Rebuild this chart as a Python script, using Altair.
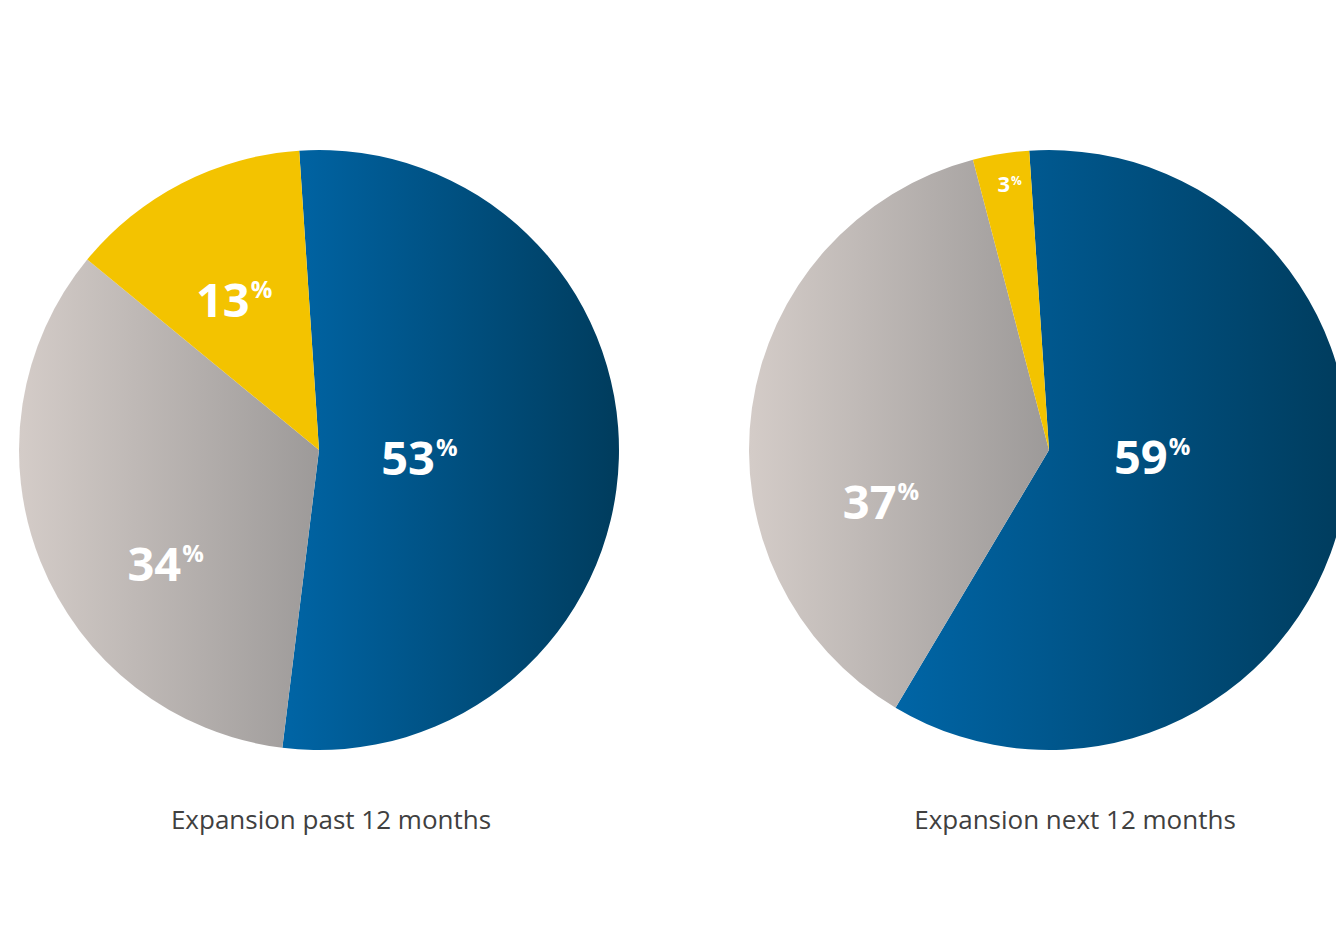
import math
import altair as alt
import pandas as pd

# ---- data ----
segments = ["Segment 1", "Segment 2", "Segment 3"]
past_values = [53, 34, 13]
next_values = [59, 37, 3]
titles = ["Expansion past 12 months", "Expansion next 12 months"]

# ---- style ----
START = -0.066  # radians, first slice starts just left of 12 o'clock
FILLS = [
    {"gradient": "linear", "x1": 0, "x2": 1, "y1": 0, "y2": 0,
     "stops": [{"offset": 0, "color": "#0065a6"}, {"offset": 1, "color": "#003c5d"}]},
    {"gradient": "linear", "x1": 0, "x2": 1, "y1": 0, "y2": 0,
     "stops": [{"offset": 0, "color": "#d4ccc8"}, {"offset": 1, "color": "#9d9a99"}]},
    "#f3c300",
]
FONT = "Open Sans"

# label placement per panel/segment: (radius, dx, dy, big)
LABELS = [
    [(110, 6, 22, True), (170, 20, 68, True), (165, 6, 14, True)],
    [(120, 2, -4, True), (155, 1, 91, True), (268, 4, 7, False)],
]


def panel(values, title, labels, width, title_dx):
    df = pd.DataFrame({"segment": segments, "value": values, "order": list(range(len(values)))})
    total = sum(values)
    theta_scale = alt.Scale(domain=[0, total], range=[START, START + 2 * math.pi])
    base = alt.Chart(df).transform_window(
        cum="sum(value)", sort=[alt.SortField("order")], frame=[None, 0]
    ).transform_calculate(
        v0="datum.cum - datum.value",
        mid="datum.cum - datum.value / 2",
        label="'' + datum.value",
    )
    layers = []
    for seg, fill in zip(segments, FILLS):
        layers.append(
            base.transform_filter(alt.datum.segment == seg)
            .mark_arc(outerRadius=300, fill=fill, strokeWidth=0)
            .encode(
                theta=alt.Theta("v0:Q", stack=None, scale=theta_scale),
                theta2="cum:Q",
            )
        )
    for seg, (r, dx, dy, big) in zip(segments, labels):
        fs = 47 if big else 22
        ps = 24 if big else 12
        up = 19 if big else 7
        sub = base.transform_filter(alt.datum.segment == seg)
        layers.append(
            sub.mark_text(font=FONT, fontWeight="bold", fontSize=fs, color="white",
                          align="right", baseline="alphabetic", dx=dx, dy=dy)
            .encode(theta=alt.Theta("mid:Q", stack=None, scale=theta_scale),
                    radius=alt.value(r), text="label:N")
        )
        layers.append(
            sub.mark_text(font=FONT, fontWeight="bold", fontSize=ps, color="white",
                          align="left", baseline="alphabetic", dx=dx + 1, dy=dy - up)
            .encode(theta=alt.Theta("mid:Q", stack=None, scale=theta_scale),
                    radius=alt.value(r), text=alt.value("%"))
        )
    return alt.layer(*layers).properties(
        width=width, height=600,
        title=alt.TitleParams(title, orient="bottom", anchor="middle", dx=title_dx,
                              offset=58, font=FONT, fontSize=26, fontWeight="normal",
                              color="#404040"),
    )


left = panel(past_values, titles[0], LABELS[0], 600, 12)
right = panel(next_values, titles[1], LABELS[1], 600, 26)

# right pie runs past the page edge, as in the original; negative right padding
# keeps the page from getting wider than the window
chart = alt.hconcat(left, right, spacing=130).properties(
    padding={"left": 11, "top": 142, "right": -13, "bottom": 40}
).configure_view(stroke=None)

chart.save("out.html", embed_options={"renderer": "svg", "actions": False})
